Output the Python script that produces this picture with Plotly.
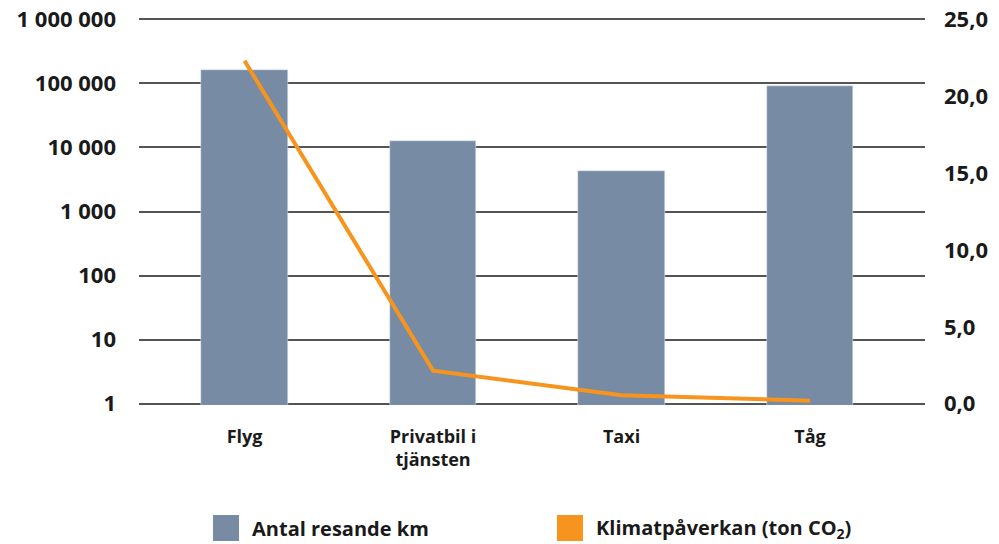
import plotly.graph_objects as go

categories = ["Flyg", "Privatbil i<br>tjänsten", "Taxi", "Tåg"]
resande_km = [160000, 12500, 4300, 90000]
klimat = [22.3, 2.15, 0.55, 0.2]
left_ticks = [1, 10, 100, 1000, 10000, 100000, 1000000]
left_labels = ["1", "10", "100", "1 000", "10 000", "100 000", "1 000 000"]
right_ticks = [0, 5, 10, 15, 20, 25]
right_labels = ["0,0", "5,0", "10,0", "15,0", "20,0", "25,0"]

BAR = "#778ba5"
ORANGE = "#f7941d"
FONT = "Open Sans"
TXT = "#1a1a1a"

L, R, T, B = 139, 74, 19, 140
PW, PH = 999 - L - R, 544 - T - B
PAD = 0.02  # decades of padding so edge gridlines are drawn

fig = go.Figure()
fig.add_trace(go.Bar(x=list(range(4)), y=resande_km, marker_color=BAR, width=0.46,
                     name="Antal resande km", showlegend=False))
fig.add_trace(go.Scatter(x=list(range(4)), y=klimat, yaxis="y2", mode="lines",
                         line=dict(color=ORANGE, width=4), name="Klimatpåverkan",
                         showlegend=False))

fig.update_layout(
    width=999, height=544,
    margin=dict(l=L - 0, r=R, t=T - int(PAD / 6 * 385), b=B - int(PAD / 6 * 385), autoexpand=False),
    plot_bgcolor="white", paper_bgcolor="white",
    font=dict(family=FONT, color=TXT),
    bargap=0,
    xaxis=dict(range=[-0.56, 3.61], tickvals=list(range(4)), ticktext=categories,
               showgrid=False, zeroline=False, showline=False, ticks="", automargin=False,
               tickfont=dict(size=18, family=FONT, weight="bold", color=TXT),
               ticklabelstandoff=19),
    yaxis=dict(type="log", range=[-PAD, 6 + PAD], tickvals=left_ticks, ticktext=left_labels,
               showgrid=True, gridcolor="#555555", gridwidth=1.5, showline=False,
               zeroline=False, ticks="", automargin=False,
               tickfont=dict(size=22, family=FONT, weight="bold", color=TXT),
               ticklabelstandoff=22),
    yaxis2=dict(overlaying="y", side="right", range=[-PAD / 6 * 25, 25 + PAD / 6 * 25],
                tickvals=right_ticks, ticktext=right_labels, showgrid=False,
                zeroline=False, showline=False, ticks="", automargin=False,
                tickfont=dict(size=22, family=FONT, weight="bold", color=TXT),
                ticklabelstandoff=18),
)

# manual legend (paper coords relative to plot area)
fl = fig.layout
pt, pb = fl.margin.t, fl.margin.b
ph = 544 - pt - pb
def py(y):
    return (544 - pb - y) / ph
legend_items = [("Antal resande km", BAR, 213), ("Klimatpåverkan (ton CO<sub>2</sub>)", ORANGE, 557)]
for label, color, px in legend_items:
    fig.add_shape(type="rect", xref="paper", yref="paper",
                  x0=(px - L) / PW, x1=(px + 26 - L) / PW,
                  y0=py(515), y1=py(541),
                  fillcolor=color, line_width=0)
    fig.add_annotation(xref="paper", yref="paper", x=(px + 37 - L) / PW,
                       y=py(528), text=label, showarrow=False,
                       xanchor="left", yanchor="middle",
                       font=dict(size=20, family=FONT, weight="bold", color=TXT))

fig.write_html("out.html", config={"displayModeBar": False},
               post_script="document.body.style.margin='0';")
